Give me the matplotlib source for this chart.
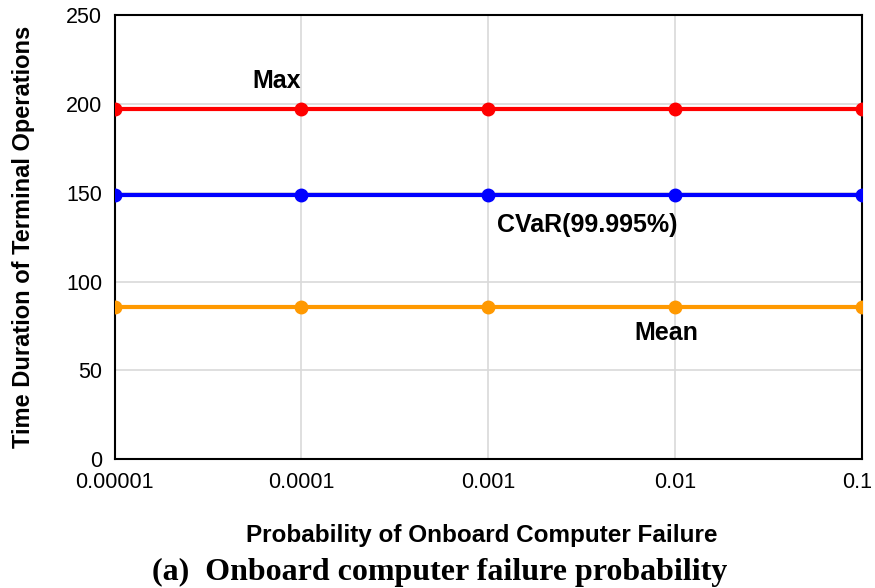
import matplotlib.pyplot as plt
import matplotlib.transforms as mtransforms

plt.rcParams['font.family'] = ['Liberation Sans', 'DejaVu Sans']

# failure probability levels and resulting terminal operation durations
probs = [0.00001, 0.0001, 0.001, 0.01, 0.1]
prob_labels = ['0.00001', '0.0001', '0.001', '0.01', '0.1']
max_vals = [197, 197, 197, 197, 197]
cvar_vals = [149, 149, 149, 149, 149]
mean_vals = [86, 86, 86, 86, 86]

fig = plt.figure(figsize=(8.75, 5.88), dpi=100)
ax = fig.add_axes([0.131, 0.219, 0.854, 0.755])

ax.plot(probs, max_vals, color='#ff0000', lw=3, marker='o', ms=9, zorder=3)
ax.plot(probs, cvar_vals, color='#0000ff', lw=3, marker='o', ms=9, zorder=3)
ax.plot(probs, mean_vals, color='#ff9900', lw=3, marker='o', ms=9, zorder=3)

ax.set_xscale('log')
ax.set_xlim(probs[0], probs[-1])
ax.set_ylim(0, 250)
ax.set_xticks(probs)
ax.set_xticklabels(prob_labels)
ax.minorticks_off()
ax.set_yticks([0, 50, 100, 150, 200, 250])
ax.tick_params(length=0, labelsize=15.5, pad=9)
ax.grid(True, color='#d9d9d9', lw=1.2)
for s in ax.spines.values():
    s.set_linewidth(1.5)
    s.set_color('black')

# keep the last tick label inside the figure edge
last = ax.get_xticklabels()[-1]
last.set_transform(last.get_transform() + mtransforms.ScaledTranslation(-5 / 100, 0, fig.dpi_scale_trans))

ax.text(7.4e-5, 213, 'Max', fontsize=18, fontweight='bold', ha='center', va='center')
ax.text(3.4e-3, 132, 'CVaR(99.995%)', fontsize=18, fontweight='bold', ha='center', va='center')
ax.text(9.0e-3, 71, 'Mean', fontsize=18, fontweight='bold', ha='center', va='center')

ax.set_ylabel('Time Duration of Terminal Operations', fontsize=17, fontweight='bold')
ax.yaxis.set_label_coords(-0.106, 0.5)
fig.text(0.55, 0.09, 'Probability of Onboard Computer Failure', fontsize=17.5,
         fontweight='bold', ha='center', va='center')
fig.text(0.502, 0.027, '(a)  Onboard computer failure probability', fontsize=23,
         fontweight='bold', family='Liberation Serif', ha='center', va='center')

fig.savefig('out.png', dpi=100)
